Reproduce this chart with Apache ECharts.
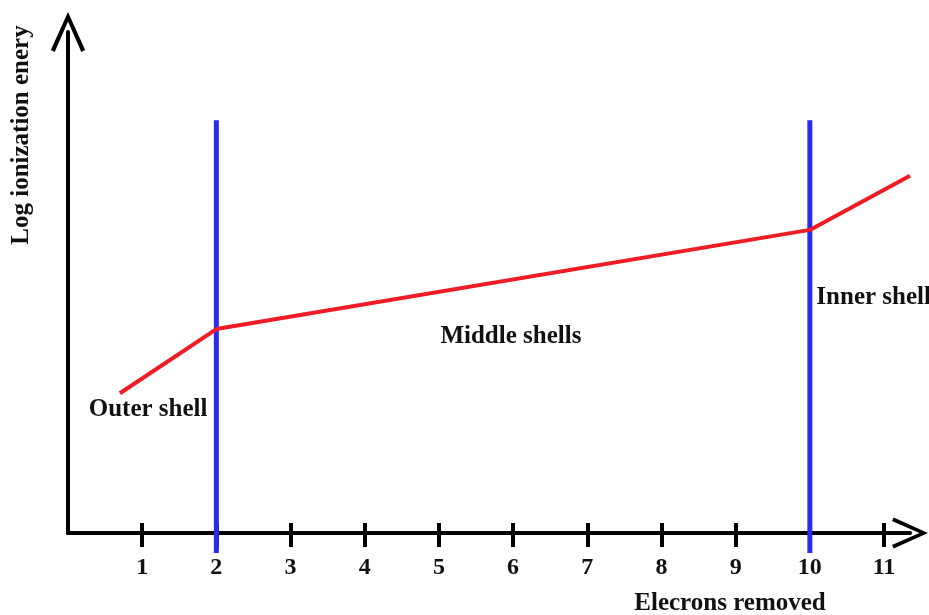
<!DOCTYPE html>
<html>
<head>
<meta charset="utf-8">
<script src="https://cdn.jsdelivr.net/npm/echarts@6/dist/echarts.min.js"></script>
<style>
  html, body { margin: 0; padding: 0; background: #fff; }
  #chart { width: 929px; height: 615px; }
</style>
</head>
<body>
<div id="chart"></div>
<script>
// electrons removed (tick marks)
const tickValues = [1, 2, 3, 4, 5, 6, 7, 8, 9, 10, 11];
// log ionization energy curve (no y scale on the sketch, arbitrary units)
const energyX = [0.7, 2, 10, 11.35];
const energyY = [2.79, 4.07, 6.05, 7.13];
// shell boundaries (blue lines)
const shellBoundaries = [2, 10];
const boundaryRange = [-0.4, 8.24];
// shell labels
const shellNames = ['Outer shell', 'Middle shells', 'Inner shell'];
const shellLabelX = [1.08, 5.97, 10.86];
const shellLabelY = [2.47, 3.93, 4.69];

const serif = '"Liberation Serif", "DejaVu Serif", serif';
const arrowPath = 'path://M0,40 L18,0 L36,40 L32,42 L18,10 L4,42 Z';

const chart = echarts.init(document.getElementById('chart'));

const boundarySeries = shellBoundaries.map(function (b) {
  return {
    type: 'line',
    clip: false,
    showSymbol: false,
    silent: true,
    z: 2,
    lineStyle: { color: '#2a2af0', width: 5 },
    data: boundaryRange.map(function (y) { return [b, y]; })
  };
});

const option = {
  animation: false,
  backgroundColor: '#fff',
  grid: [
    { left: 68, right: 19, top: 32, bottom: 82 },
    { left: 68, right: 19, top: 32, bottom: 82 }
  ],
  xAxis: [{
    type: 'value',
    gridIndex: 0,
    min: 0,
    max: 11.35,
    splitLine: { show: false },
    axisLine: {
      lineStyle: { color: '#000', width: 4 },
      symbol: ['none', arrowPath],
      symbolSize: [34, 36]
    },
    axisTick: { customValues: tickValues, length: 14, lineStyle: { color: '#000', width: 4 } },
    axisLabel: {
      customValues: tickValues,
      margin: 23,
      color: '#111',
      fontFamily: serif,
      fontWeight: 'bold',
      fontSize: 24
    }
  }, {
    type: 'value',
    gridIndex: 1,
    min: 0,
    max: 11.35,
    splitLine: { show: false },
    axisLine: { show: false },
    axisTick: { customValues: tickValues, inside: true, length: 10, lineStyle: { color: '#000', width: 4 } },
    axisLabel: { show: false }
  }],
  yAxis: [{
    type: 'value',
    gridIndex: 0,
    min: 0,
    max: 10,
    splitLine: { show: false },
    axisTick: { show: false },
    axisLabel: { show: false },
    axisLine: {
      show: true,
      lineStyle: { color: '#000', width: 4 },
      symbol: ['none', arrowPath],
      symbolSize: [38, 40]
    }
  }, {
    type: 'value',
    gridIndex: 1,
    min: 0,
    max: 10,
    show: false
  }],
  graphic: [{
    type: 'text',
    x: 22,
    y: 135,
    rotation: Math.PI / 2,
    style: {
      text: 'Log ionization enery',
      fill: '#111',
      font: 'bold 25px ' + serif,
      align: 'center',
      verticalAlign: 'middle'
    }
  }, {
    type: 'text',
    x: 730,
    y: 604,
    style: {
      text: 'Elecrons removed',
      fill: '#111',
      font: 'bold 25px ' + serif,
      align: 'center',
      verticalAlign: 'middle'
    }
  }],
  series: boundarySeries.concat([{
    type: 'line',
    showSymbol: false,
    clip: false,
    silent: true,
    z: 3,
    lineStyle: { color: '#ee1c24', width: 4 },
    data: energyX.map(function (x, i) { return [x, energyY[i]]; })
  }, {
    type: 'scatter',
    symbolSize: 0,
    silent: true,
    z: 4,
    itemStyle: { opacity: 1 },
    label: {
      show: true,
      position: 'inside',
      formatter: function (p) { return shellNames[p.dataIndex]; },
      color: '#111',
      fontFamily: serif,
      fontWeight: 'bold',
      fontSize: 25
    },
    data: shellLabelX.map(function (x, i) { return [x, shellLabelY[i]]; })
  }])
};

chart.setOption(option);
</script>
</body>
</html>
